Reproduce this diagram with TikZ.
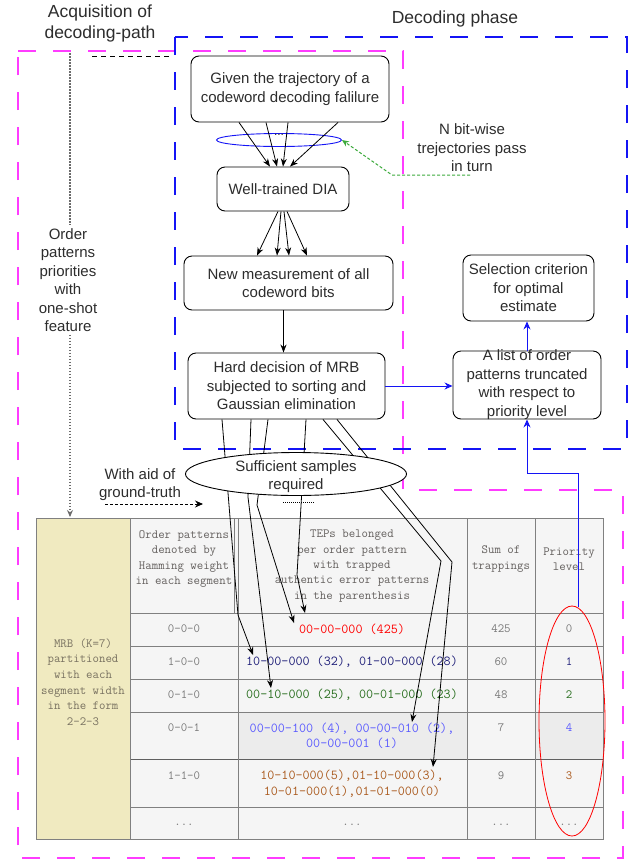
\documentclass[tikz,border=0pt]{standalone}
\usepackage{fontspec}
\setmainfont{Liberation Sans}
\usetikzlibrary{arrows.meta,calc,shapes.geometric}
\definecolor{pinkc}{RGB}{255,60,255}
\definecolor{bluec}{RGB}{20,20,245}
\definecolor{greenc}{RGB}{60,170,60}
\definecolor{gridc}{RGB}{128,128,128}
\definecolor{gridd}{RGB}{95,95,95}
\definecolor{cellc}{RGB}{245,245,245}
\definecolor{celld}{RGB}{236,236,236}
\definecolor{yellc}{RGB}{240,234,192}
\definecolor{hdrc}{RGB}{100,96,94}
\definecolor{yelt}{RGB}{120,113,96}
\definecolor{grt}{RGB}{120,120,120}
\definecolor{navyc}{RGB}{30,30,120}
\definecolor{grnc}{RGB}{40,110,30}
\definecolor{bluet}{RGB}{90,90,255}
\definecolor{brownc}{RGB}{170,90,30}
\definecolor{labc}{RGB}{45,45,45}
\tikzset{
  lab/.style={align=center, font=\fontsize{15}{18.5}\selectfont, inner sep=0pt, text=labc},
  titl/.style={align=center, font=\fontsize{17.5}{21}\selectfont, inner sep=0pt, text=labc},
  box/.style={draw=black, line width=0.9pt, rounded corners=8pt, lab},
  arr/.style={draw=black, line width=0.8pt, -{Stealth[length=8pt,width=6pt]}},
  barr/.style={draw=bluec, line width=0.9pt, -{Stealth[length=8pt,width=7pt]}},
  garr/.style={draw=greenc, line width=1pt, dash pattern=on 3pt off 2pt, -{Stealth[length=7pt,width=6pt]}},
  pinkfr/.style={draw=pinkc, line width=2.2pt, dash pattern=on 18pt off 17pt},
  bluefr/.style={draw=bluec, line width=2.2pt, dash pattern=on 18pt off 17pt},
  hdr/.style={align=center, font=\ttfamily\fontsize{12.5}{15.4}\selectfont\addfontfeature{FakeBold=0.5}, inner sep=0pt, text=hdrc},
  yel/.style={align=center, font=\ttfamily\fontsize{12.5}{15.6}\selectfont\addfontfeature{FakeBold=0.5}, inner sep=0pt, text=yelt},
  cellt/.style={align=center, font=\ttfamily\fontsize{12.5}{15.4}\selectfont\addfontfeature{FakeBold=0.5}, inner sep=0pt, text=grt},
  body/.style={align=center, font=\ttfamily\fontsize{13.7}{15.5}\selectfont\addfontfeature{FakeBold=1}, inner sep=0pt},
  gridl/.style={draw=gridc, line width=1pt}
}
\begin{document}
\begin{tikzpicture}[x=1pt,y=-1pt]
\useasboundingbox (0,0) rectangle (641,863);
\fill[white] (0,0) rectangle (641,863);

% frames
\draw[pinkfr] (18,51) -- (403,51) -- (403,490) -- (623,490) -- (623,858) -- (18,858) -- cycle;
\draw[bluefr] (175,37) rectangle (627,449);

% titles
\node[titl] (acqt) at (100,23.5) {Acquisition of\\decoding-path};
\node[titl] (dect) at (455,19) {Decoding phase};

% table
\fill[cellc] (36,518) rectangle (603,839);
\fill[yellc] (36,518) rectangle (130,839);
\fill[celld] (238,712) rectangle (467,759);
\fill[celld] (535,712) rectangle (603,759);
\foreach \yy in {613,646,679,712,807} \draw[gridl] (130,\yy) -- (603,\yy);
\draw[draw=gridd, line width=1pt] (130,759) -- (603,759);
\foreach \xx in {130,238,467,535} \draw[gridl] (\xx,518) -- (\xx,839);
\draw[draw=gridc, line width=0.6pt] (234.5,518) -- (234.5,613);
\draw[gridl] (36,518) rectangle (603,839);

\node[yel] (mrb) at (83,682) {MRB (K=7)\\partitioned\\with each\\segment width\\in the form\\2-2-3};
\node[hdr] (h2) at (184,559) {Order patterns\\denoted by\\Hamming weight\\in each segment};
\node[hdr] (h3) at (352,566) {TEPs belonged\\per order pattern\\with trapped\\authentic error patterns\\in the parenthesis};
\node[hdr] (h4) at (501,559) {Sum of\\trappings};
\node[hdr] (h5) at (569,559) {Priority\\level};

\node[cellt] (p1) at (184,629) {0-0-0};
\node[cellt] (p2) at (184,662) {1-0-0};
\node[cellt] (p3) at (184,695) {0-1-0};
\node[cellt] (p4) at (184,728) {0-0-1};
\node[cellt] (p5) at (184,776) {1-1-0};
\node[cellt] (p6) at (184,825) {...};

\node[body, text=red] (t1) at (352,629) {00-00-000 (425)};
\node[body, text=navyc] (t2) at (352,662) {10-00-000 (32), 01-00-000 (28)};
\node[body, text=grnc] (t3) at (352,695) {00-10-000 (25), 00-01-000 (23)};
\node[body, text=bluet] (t4) at (352,736) {00-00-100 (4), 00-00-010 (2),\\00-00-001 (1)};
\node[body, text=brownc] (t5) at (352,783.5) {10-10-000(5),01-10-000(3),\\10-01-000(1),01-01-000(0)};
\node[cellt] (t6) at (352,825) {...};

\node[cellt] (s1) at (501,629) {425};
\node[cellt] (s2) at (501,662) {60};
\node[cellt] (s3) at (501,695) {48};
\node[cellt] (s4) at (501,728) {7};
\node[cellt] (s5) at (501,776) {9};
\node[cellt] (s6) at (501,825) {...};

\node[cellt] (r1) at (569,629) {0};
\node[cellt, text=navyc] (r2) at (569,662) {1};
\node[cellt, text=grnc] (r3) at (569,695) {2};
\node[cellt, text=bluet] (r4) at (569,728) {4};
\node[cellt, text=brownc] (r5) at (569,776) {3};
\node[cellt] (r6) at (569,825) {...};

\node[ellipse, draw=red, line width=0.8pt, minimum width=66, minimum height=230, inner sep=0pt] (pri) at (572,721) {};

% boxes
\node[box, minimum width=198, minimum height=66] (top) at (290,89) {Given the trajectory of a\\codeword decoding falilure};
\node[box, minimum width=132, minimum height=44] (dia) at (283,189) {Well-trained DIA};
\node[box, minimum width=209, minimum height=54] (new) at (288.5,283) {New measurement of all\\codeword bits};
\node[box, minimum width=197, minimum height=66] (hard) at (286.5,386) {Hard decision of MRB\\subjected to sorting and\\Gaussian elimination};
\node[box, minimum width=148, minimum height=68] (list) at (527,385) {};
\node[lab] (listt) at (527,384.5) {A list of order\\patterns truncated\\with respect to\\priority level};
\node[box, minimum width=131, minimum height=66] (sel) at (528.5,288) {Selection criterion\\for optimal\\estimate};

\node[ellipse, draw=bluec, line width=0.9pt, minimum width=125, minimum height=13, inner sep=0pt] (traj) at (279,140) {};
\node[lab, font=\fontsize{12}{14}\selectfont] (dots) at (279,135) {...};

\foreach \a/\b in {-51/-13,-24/-6,-2/0,48/7}
  \draw[arr] ($(top.south)+(\a,0)$) -- ($(dia.north)+(\b,0)$);
\foreach \a/\b in {-5/-31.5,-2/-11.5,1/0.5,4/18.5}
  \draw[arr] ($(dia.south)+(\a,0)$) -- ($(new.north)+(\b,0)$);
\draw[arr] ($(new.south)+(-5,0)$) -- ($(hard.north)+(-3,0)$);

\draw[barr] (hard.east) -- (hard.east -| list.west);
\draw[barr] (list.north) -- (list.north |- sel.south);
\coordinate (pb) at (527,473);
\draw[barr] (pri.87) |- (pb) -- (list.south);

% N bit-wise
\node[lab] (nbit) at (472,148) {N bit-wise\\trejectories pass\\in turn};
\coordinate (g0) at (470,175);
\coordinate (g1) at (392,175);
\draw[garr] (g0) -- (g1) -- (traj.east);

% left label
\coordinate (acq0) at (70,53);
\coordinate (mrbtop) at (70,517);
\node[lab, inner sep=3pt] (opp) at (68,280) {Order\\patterns\\priorities\\with\\one-shot\\feature};
\draw[draw=gray!85!black, line width=1.1pt, dash pattern=on 1.5pt off 1.5pt] (acq0) -- (opp.north -| acq0);
\draw[draw=gray!85!black, line width=1.1pt, dash pattern=on 1.5pt off 1.5pt, -{Stealth[length=7pt,width=6pt,fill=black]}] (opp.south -| acq0) -- (mrbtop);
\coordinate (bd1) at (92,56);
\coordinate (bd2) at (172,56);
\draw[draw=black, line width=0.9pt, dash pattern=on 5pt off 4pt] (bd1) -- (bd2);

% lines from hard decision to table
\coordinate (eA) at (253,655); \coordinate (wA) at (238,615);
\coordinate (eB) at (271,688); \coordinate (wB) at (248,497);
\coordinate (eC) at (294,623); \coordinate (wC) at (257,505);
\coordinate (eD) at (305,613); \coordinate (wD) at (297,575);
\coordinate (eE) at (412,722); \coordinate (wE) at (441,561);
\coordinate (eF) at (433,767); \coordinate (wF) at (452,562);
\draw[arr] ($(hard.south)+(-64.5,0)$) -- (wA) -- (eA);
\draw[arr] ($(hard.south)+(-35.5,0)$) -- (wB) -- (eB);
\draw[arr] ($(hard.south)+(-18.5,0)$) -- (wC) -- (eC);
\draw[arr] ($(hard.south)+(19.5,0)$) -- (wD) -- (eD);
\draw[arr] ($(hard.south)+(36.5,0)$) -- (wE) -- (eE);
\draw[arr] ($(hard.south)+(50.5,0)$) -- (wF) -- (eF);

% sufficient samples
\node[ellipse, draw=black, fill=white, line width=0.9pt, minimum width=221, minimum height=43, inner sep=0pt] (suff) at (296,474) {};
\node[lab] (sufft) at (296,476.5) {Sufficient samples\\required};
\coordinate (dt1) at (283,502);
\coordinate (dt2) at (315,502);
\draw[draw=black, line width=0.6pt, dash pattern=on 1pt off 1pt] (dt1) -- (dt2);

\node[lab] (aid) at (140,484.5) {With aid of\\ground-truth};
\coordinate (gt1) at (105,504);
\coordinate (gt2) at (203,504);
\draw[draw=black, line width=0.9pt, dash pattern=on 3pt off 2pt, -{Stealth[length=8pt,width=7pt]}] (gt1) -- (gt2);
\end{tikzpicture}
\end{document}
